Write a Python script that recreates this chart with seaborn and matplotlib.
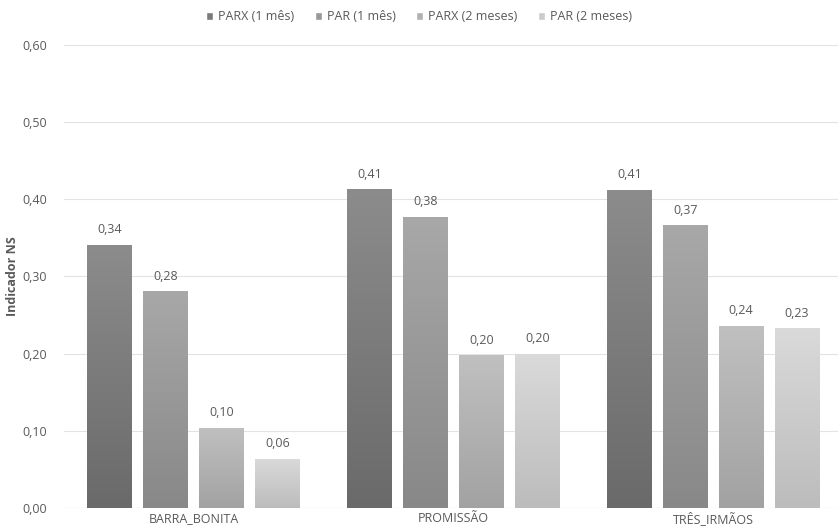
import numpy as np
import pandas as pd
import matplotlib
matplotlib.use('Agg')
import matplotlib.pyplot as plt
import seaborn as sns
from matplotlib.colors import LinearSegmentedColormap

reservatorios = ['BARRA_BONITA', 'PROMISSÃO', 'TRÊS_IRMÃOS']
modelos = ['PARX (1 mês)', 'PAR (1 mês)', 'PARX (2 meses)', 'PAR (2 meses)']
parx_1 = [0.341, 0.413, 0.412]
par_1 = [0.281, 0.377, 0.366]
parx_2 = [0.104, 0.198, 0.236]
par_2 = [0.064, 0.200, 0.233]
yticks = [0.0, 0.1, 0.2, 0.3, 0.4, 0.5, 0.6]

# top / bottom colours of the gradient for every series
cor_topo = ['#8c8c8c', '#a8a8a8', '#c0c0c0', '#dadada']
cor_base = ['#6a6a6a', '#888888', '#a2a2a2', '#bcbcbc']
cor_legenda = ['#7b7b7b', '#989898', '#b1b1b1', '#cbcbcb']

df = pd.DataFrame({
    'reservatorio': reservatorios * 4,
    'modelo': np.repeat(modelos, 3),
    'valor': parx_1 + par_1 + parx_2 + par_2,
})

sns.set_style('white')
plt.rcParams['font.family'] = ['Open Sans', 'DejaVu Sans']
texto = '#595959'
fs = 9

fig = plt.figure(figsize=(8.38, 5.31), dpi=100)
ax = fig.add_axes([0.076, 0.043, 0.924, 0.873])

sns.barplot(data=df, x='reservatorio', y='valor', hue='modelo',
            hue_order=modelos, palette=cor_legenda, width=0.86, gap=0.2,
            ax=ax, legend=True)

ax.set_yticks(yticks)
ax.set_yticklabels([f'{t:.2f}'.replace('.', ',') for t in yticks],
                   color=texto, fontsize=fs)
ax.tick_params(axis='x', colors=texto, labelsize=fs, length=0, pad=3)
ax.tick_params(axis='y', length=0, pad=30)
for lbl in ax.get_yticklabels():
    lbl.set_horizontalalignment('left')
ax.yaxis.grid(True, color='#e3e3e3', linewidth=0.8)
ax.set_axisbelow(True)
sns.despine(ax=ax, left=True, bottom=True)
ax.axhline(0, color='#d9d9d9', linewidth=0.8, zorder=1)
ax.set_xlabel('')
ax.set_ylabel('Indicador NS', color=texto, fontsize=fs, fontweight='bold',
              labelpad=2)

# gradient fill clipped to each bar
for i, cont in enumerate(ax.containers):
    cmap = LinearSegmentedColormap.from_list(f'g{i}', [cor_base[i], cor_topo[i]])
    grad = np.linspace(0, 1, 256).reshape(-1, 1)
    for bar in cont:
        x0, y0 = bar.get_x(), bar.get_y()
        w, h = bar.get_width(), bar.get_height()
        bar.set_facecolor('none')
        bar.set_edgecolor('none')
        im = ax.imshow(grad, cmap=cmap, origin='lower', aspect='auto',
                       extent=[x0, x0 + w, y0, y0 + h], zorder=2)
        im.set_clip_path(bar)
        ax.text(x0 + w / 2, h + 0.011, f'{h:.2f}'.replace('.', ','),
                ha='center', va='bottom', fontsize=fs, color=texto)

ax.set_xlim(-0.5, 2.48)
ax.set_ylim(0, 0.6)

handles, labels = ax.get_legend_handles_labels()
ax.get_legend().remove()
fig.legend(handles, labels, ncol=4, loc='center',
           bbox_to_anchor=(0.5, 0.968), frameon=False, fontsize=fs,
           handlelength=0.6, handleheight=0.6, handletextpad=0.4,
           columnspacing=1.6, labelcolor=texto)

fig.savefig('out.png', dpi=100)
